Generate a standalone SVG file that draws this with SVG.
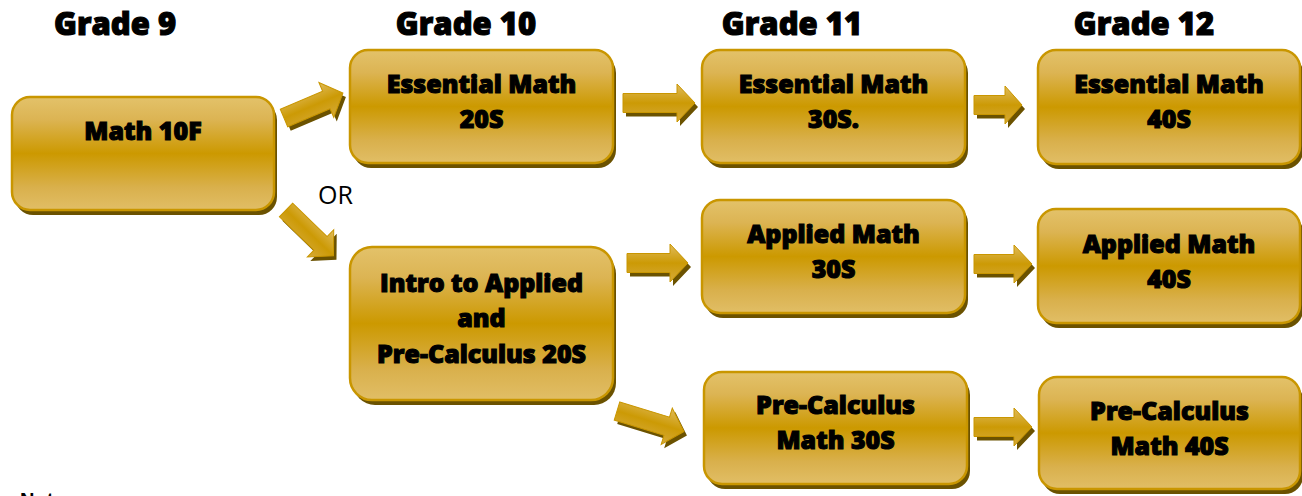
<svg xmlns="http://www.w3.org/2000/svg" width="1302" height="496" viewBox="0 0 1302 496">
<defs>
<linearGradient id="gBox" x1="0" y1="0" x2="0" y2="1">
<stop offset="0" stop-color="#e3c26a"/>
<stop offset="0.2" stop-color="#dcb453"/>
<stop offset="0.5" stop-color="#cc9900"/>
<stop offset="0.8" stop-color="#d9b04c"/>
<stop offset="1" stop-color="#e1be66"/>
</linearGradient>
<linearGradient id="gArr" x1="0" y1="0" x2="0" y2="1">
<stop offset="0" stop-color="#e0bb5c"/>
<stop offset="0.5" stop-color="#cc9a05"/>
<stop offset="1" stop-color="#d6aa3a"/>
</linearGradient>
<style>
.box{fill:url(#gBox);stroke:#c99600;stroke-width:2.5}
.shd{fill:#6b5200}
.ar{fill:url(#gArr);stroke:#c99600;stroke-width:1}
.lbl{font-family:"Open Sans","Liberation Sans",sans-serif;font-weight:800;font-size:25px;fill:#000;stroke:#000;stroke-width:1.1;text-anchor:middle}
.hdr{font-family:"Open Sans","Liberation Sans",sans-serif;font-weight:800;font-size:31px;fill:#000;stroke:#000;stroke-width:1.1;text-anchor:middle}
.or{font-family:"Open Sans","Liberation Sans",sans-serif;font-size:25px;fill:#000}
.note{font-family:"Liberation Sans",Arial,sans-serif;font-weight:bold;font-size:20px;fill:#000}
</style>
</defs>
<rect width="1302" height="496" fill="#fff"/>

<g id="headers">
<text class="hdr" x="115" y="35">Grade 9</text>
<text class="hdr" x="466" y="35">Grade 10</text>
<text class="hdr" x="792" y="35">Grade 11</text>
<text class="hdr" x="1144" y="35">Grade 12</text>
</g>

<g id="connectors">
<g id="a1">
<path class="shd" transform="translate(287,122) rotate(-23)" d="M0,-9.5 H46 V-19 L64,0 L46,19 V9.5 H0 Z"/>
<path class="ar" transform="translate(284,118) rotate(-23)" d="M0,-9.5 H46 V-19 L64,0 L46,19 V9.5 H0 Z"/>
</g>
<g id="a2">
<path class="shd" transform="translate(289,214) rotate(44)" d="M0,-9.5 H48 V-19 L66,0 L48,19 V9.5 H0 Z"/>
<path class="ar" transform="translate(286,210) rotate(44)" d="M0,-9.5 H48 V-19 L66,0 L48,19 V9.5 H0 Z"/>
</g>
<g id="a3">
<path class="shd" transform="translate(626,107)" d="M0,-9.5 H54 V-19 L72,0 L54,19 V9.5 H0 Z"/>
<path class="ar" transform="translate(623,103)" d="M0,-9.5 H54 V-19 L72,0 L54,19 V9.5 H0 Z"/>
</g>
<g id="a4">
<path class="shd" transform="translate(977,109)" d="M0,-9.5 H31 V-19 L48,0 L31,19 V9.5 H0 Z"/>
<path class="ar" transform="translate(974,105)" d="M0,-9.5 H31 V-19 L48,0 L31,19 V9.5 H0 Z"/>
</g>
<g id="a5">
<path class="shd" transform="translate(630,267)" d="M0,-9.5 H43 V-19 L61,0 L43,19 V9.5 H0 Z"/>
<path class="ar" transform="translate(627,263)" d="M0,-9.5 H43 V-19 L61,0 L43,19 V9.5 H0 Z"/>
</g>
<g id="a6">
<path class="shd" transform="translate(620,415) rotate(17)" d="M0,-9.5 H52 V-19 L70,0 L52,19 V9.5 H0 Z"/>
<path class="ar" transform="translate(617,411) rotate(17)" d="M0,-9.5 H52 V-19 L70,0 L52,19 V9.5 H0 Z"/>
</g>
<g id="a7">
<path class="shd" transform="translate(977,268)" d="M0,-9.5 H40 V-19 L58,0 L40,19 V9.5 H0 Z"/>
<path class="ar" transform="translate(974,264)" d="M0,-9.5 H40 V-19 L58,0 L40,19 V9.5 H0 Z"/>
</g>
<g id="a8">
<path class="shd" transform="translate(977,431)" d="M0,-9.5 H40 V-19 L58,0 L40,19 V9.5 H0 Z"/>
<path class="ar" transform="translate(974,427)" d="M0,-9.5 H40 V-19 L58,0 L40,19 V9.5 H0 Z"/>
</g>
</g>

<g id="n-math10f">
<rect class="shd" x="15" y="102" width="262" height="113" rx="18"/>
<rect class="box" x="12" y="97" width="262" height="113" rx="18"/>
<text class="lbl" x="143" y="140">Math 10F</text>
</g>
<g id="n-ess20">
<rect class="shd" x="353" y="55" width="263" height="113" rx="18"/>
<rect class="box" x="350" y="50" width="263" height="113" rx="18"/>
<text class="lbl" x="481.5" y="93">Essential Math</text>
<text class="lbl" x="481.5" y="128">20S</text>
</g>
<g id="n-ess30">
<rect class="shd" x="705" y="55" width="263" height="113" rx="18"/>
<rect class="box" x="702" y="50" width="263" height="113" rx="18"/>
<text class="lbl" x="833.5" y="93">Essential Math</text>
<text class="lbl" x="833.5" y="128">30S.</text>
</g>
<g id="n-ess40">
<rect class="shd" x="1041" y="55" width="262" height="114" rx="18"/>
<rect class="box" x="1038" y="50" width="262" height="114" rx="18"/>
<text class="lbl" x="1169" y="93">Essential Math</text>
<text class="lbl" x="1169" y="128">40S</text>
</g>
<g id="n-intro">
<rect class="shd" x="353" y="252" width="263" height="153" rx="22"/>
<rect class="box" x="350" y="247" width="263" height="153" rx="22"/>
<text class="lbl" x="481.5" y="292">Intro to Applied</text>
<text class="lbl" x="481.5" y="327">and</text>
<text class="lbl" x="481.5" y="363">Pre-Calculus 20S</text>
</g>
<g id="n-app30">
<rect class="shd" x="705" y="205" width="263" height="113" rx="18"/>
<rect class="box" x="702" y="200" width="263" height="113" rx="18"/>
<text class="lbl" x="833.5" y="243">Applied Math</text>
<text class="lbl" x="833.5" y="278">30S</text>
</g>
<g id="n-pre30">
<rect class="shd" x="707" y="377" width="263" height="112" rx="18"/>
<rect class="box" x="704" y="372" width="263" height="112" rx="18"/>
<text class="lbl" x="835.5" y="414">Pre-Calculus</text>
<text class="lbl" x="835.5" y="449">Math 30S</text>
</g>
<g id="n-app40">
<rect class="shd" x="1041" y="214" width="262" height="114" rx="18"/>
<rect class="box" x="1038" y="209" width="262" height="114" rx="18"/>
<text class="lbl" x="1169" y="253">Applied Math</text>
<text class="lbl" x="1169" y="288">40S</text>
</g>
<g id="n-pre40">
<rect class="shd" x="1042" y="382" width="261" height="112" rx="18"/>
<rect class="box" x="1039" y="377" width="261" height="112" rx="18"/>
<text class="lbl" x="1169.5" y="420">Pre-Calculus</text>
<text class="lbl" x="1169.5" y="455">Math 40S</text>
</g>

<text class="or" x="318" y="204">OR</text>
<text class="note" x="20" y="507">Note</text>
</svg>
